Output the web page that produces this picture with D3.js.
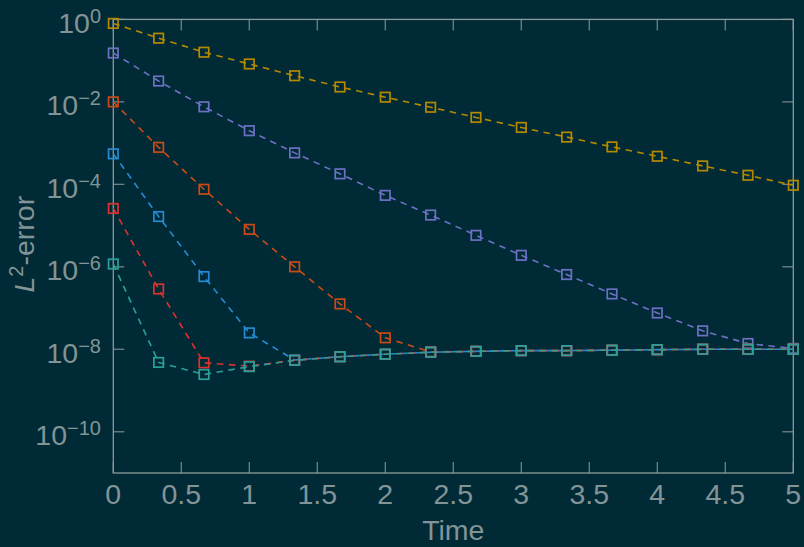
<!DOCTYPE html>
<html>
<head>
<meta charset="utf-8">
<script src="https://cdn.jsdelivr.net/npm/d3@7"></script>
<style>
  html, body { margin: 0; padding: 0; background: #002b36; }
  svg { display: block; }
</style>
</head>
<body>
<script>
// ---- data ----
const times = [0, 0.3333, 0.6667, 1, 1.3333, 1.6667, 2, 2.3333, 2.6667, 3, 3.3333, 3.6667, 4, 4.3333, 4.6667, 5];

const seriesYellow = [0.80, 0.35, 0.16, 0.083, 0.043, 0.023, 0.013, 7.4e-3, 4.2e-3, 2.4e-3, 1.4e-3, 8.1e-4, 4.8e-4, 2.8e-4, 1.66e-4, 9.5e-5];
const seriesViolet = [0.153, 0.032, 7.6e-3, 2.0e-3, 5.8e-4, 1.8e-4, 5.4e-5, 1.8e-5, 5.8e-6, 1.9e-6, 6.5e-7, 2.2e-7, 7.6e-8, 2.8e-8, 1.38e-8, 1.05e-8];
const seriesOrange = [1.0e-2, 7.9e-4, 7.6e-5, 8.1e-6, 1.0e-6, 1.26e-7, 1.9e-8, 8.7e-9, 8.9e-9, 9.3e-9, 9.3e-9, 9.5e-9, 9.8e-9, 1.0e-8, 1.0e-8, 1.0e-8];
const seriesBlue   = [5.5e-4, 1.66e-5, 5.8e-7, 2.5e-8, 5.5e-9, 6.6e-9, 7.6e-9, 8.5e-9, 8.9e-9, 9.3e-9, 9.3e-9, 9.5e-9, 9.8e-9, 1.0e-8, 1.0e-8, 1.0e-8];
const seriesRed    = [2.6e-5, 2.9e-7, 4.7e-9, 3.9e-9, 5.4e-9, 6.6e-9, 7.6e-9, 8.5e-9, 8.9e-9, 9.3e-9, 9.3e-9, 9.5e-9, 9.8e-9, 1.0e-8, 1.0e-8, 1.0e-8];
const seriesTeal   = [1.17e-6, 4.8e-9, 2.45e-9, 3.8e-9, 5.4e-9, 6.6e-9, 7.6e-9, 8.5e-9, 8.9e-9, 9.3e-9, 9.3e-9, 9.5e-9, 9.8e-9, 1.0e-8, 1.0e-8, 1.0e-8];

const xTicks = [0, 0.5, 1, 1.5, 2, 2.5, 3, 3.5, 4, 4.5, 5];
const xTickLabels = ["0", "0.5", "1", "1.5", "2", "2.5", "3", "3.5", "4", "4.5", "5"];
const yTickExponents = [0, -2, -4, -6, -8, -10];

const xLabel = "Time";

// ---- drawing ----
const W = 804, H = 547;
const bg = "#002b36";
const textColor = "#839496";
const axisColor = "#8a9a9b";
const tickColor = "#6f8285";

const seriesList = [
  { values: seriesYellow, color: "#b58900" },
  { values: seriesViolet, color: "#6c71c4" },
  { values: seriesOrange, color: "#cb4b16" },
  { values: seriesBlue,   color: "#268bd2" },
  { values: seriesRed,    color: "#dc322f" },
  { values: seriesTeal,   color: "#2aa198" }
];

const pLeft = 113.3, pRight = 793.3, pTop = 19.4, pBottom = 473;

const svg = d3.select("body").append("svg")
  .attr("width", W).attr("height", H)
  .style("background", bg);

svg.append("rect").attr("width", W).attr("height", H).attr("fill", bg);

const x = d3.scaleLinear().domain([0, 5]).range([pLeft, pRight]);
const y = d3.scaleLog().domain([1e-11, 1]).range([pBottom, pTop]);

const font = "'Liberation Sans', Arial, Helvetica, sans-serif";
const tickLen = 11;

// ticks (inward, all four sides)
const tg = svg.append("g").attr("stroke", tickColor).attr("stroke-width", 1.3);
xTicks.forEach(t => {
  tg.append("line").attr("x1", x(t)).attr("x2", x(t)).attr("y1", pBottom).attr("y2", pBottom - tickLen);
  tg.append("line").attr("x1", x(t)).attr("x2", x(t)).attr("y1", pTop).attr("y2", pTop + tickLen);
});
yTickExponents.forEach(e => {
  const yy = y(Math.pow(10, e));
  tg.append("line").attr("x1", pLeft).attr("x2", pLeft + tickLen).attr("y1", yy).attr("y2", yy);
  tg.append("line").attr("x1", pRight).attr("x2", pRight - tickLen).attr("y1", yy).attr("y2", yy);
});

// frame
svg.append("rect")
  .attr("x", pLeft).attr("y", pTop)
  .attr("width", pRight - pLeft).attr("height", pBottom - pTop)
  .attr("fill", "none").attr("stroke", axisColor).attr("stroke-width", 1.3);

// series
const line = d3.line()
  .x((d, i) => x(times[i]))
  .y(d => y(d));

const plots = svg.append("g");
seriesList.forEach(s => {
  const g = plots.append("g");
  g.append("path")
    .attr("d", line(s.values))
    .attr("fill", "none")
    .attr("stroke", s.color)
    .attr("stroke-width", 1.6)
    .attr("stroke-dasharray", "6.5,5.5");
  const ms = 9.5;
  g.selectAll("rect.m").data(s.values).enter().append("rect")
    .attr("class", "m")
    .attr("x", (d, i) => x(times[i]) - ms / 2)
    .attr("y", d => y(d) - ms / 2)
    .attr("width", ms).attr("height", ms)
    .attr("fill", "none")
    .attr("stroke", s.color)
    .attr("stroke-width", 1.7);
});

// x tick labels
const xl = svg.append("g").attr("font-family", font).attr("font-size", 28.5).attr("fill", textColor);
xTicks.forEach((t, i) => {
  xl.append("text").attr("x", x(t)).attr("y", 504).attr("text-anchor", "middle").text(xTickLabels[i]);
});

// y tick labels 10^e
yTickExponents.forEach(e => {
  const yy = y(Math.pow(10, e));
  const t = svg.append("text")
    .attr("x", 101).attr("y", yy + 13.3)
    .attr("text-anchor", "end")
    .attr("font-family", font).attr("fill", textColor).attr("font-size", 28.5);
  t.append("tspan").text("10");
  t.append("tspan").attr("font-size", 20).attr("dy", -10)
    .text(e < 0 ? "\u2212" + Math.abs(e) : String(e));
});

// x axis label
svg.append("text")
  .attr("x", (pLeft + pRight) / 2).attr("y", 540)
  .attr("text-anchor", "middle")
  .attr("font-family", font).attr("font-size", 28.5).attr("fill", textColor)
  .text(xLabel);

// y axis label
const yl = svg.append("text")
  .attr("transform", `translate(33.5, ${(pTop + pBottom) / 2 - 2}) rotate(-90)`)
  .attr("text-anchor", "middle")
  .attr("font-family", font).attr("font-size", 28.5).attr("fill", textColor);
yl.append("tspan").attr("font-style", "italic").text("L");
yl.append("tspan").attr("font-size", 20).attr("dy", -11).text("2");
yl.append("tspan").attr("dy", 11).text("-error");
</script>
</body>
</html>
